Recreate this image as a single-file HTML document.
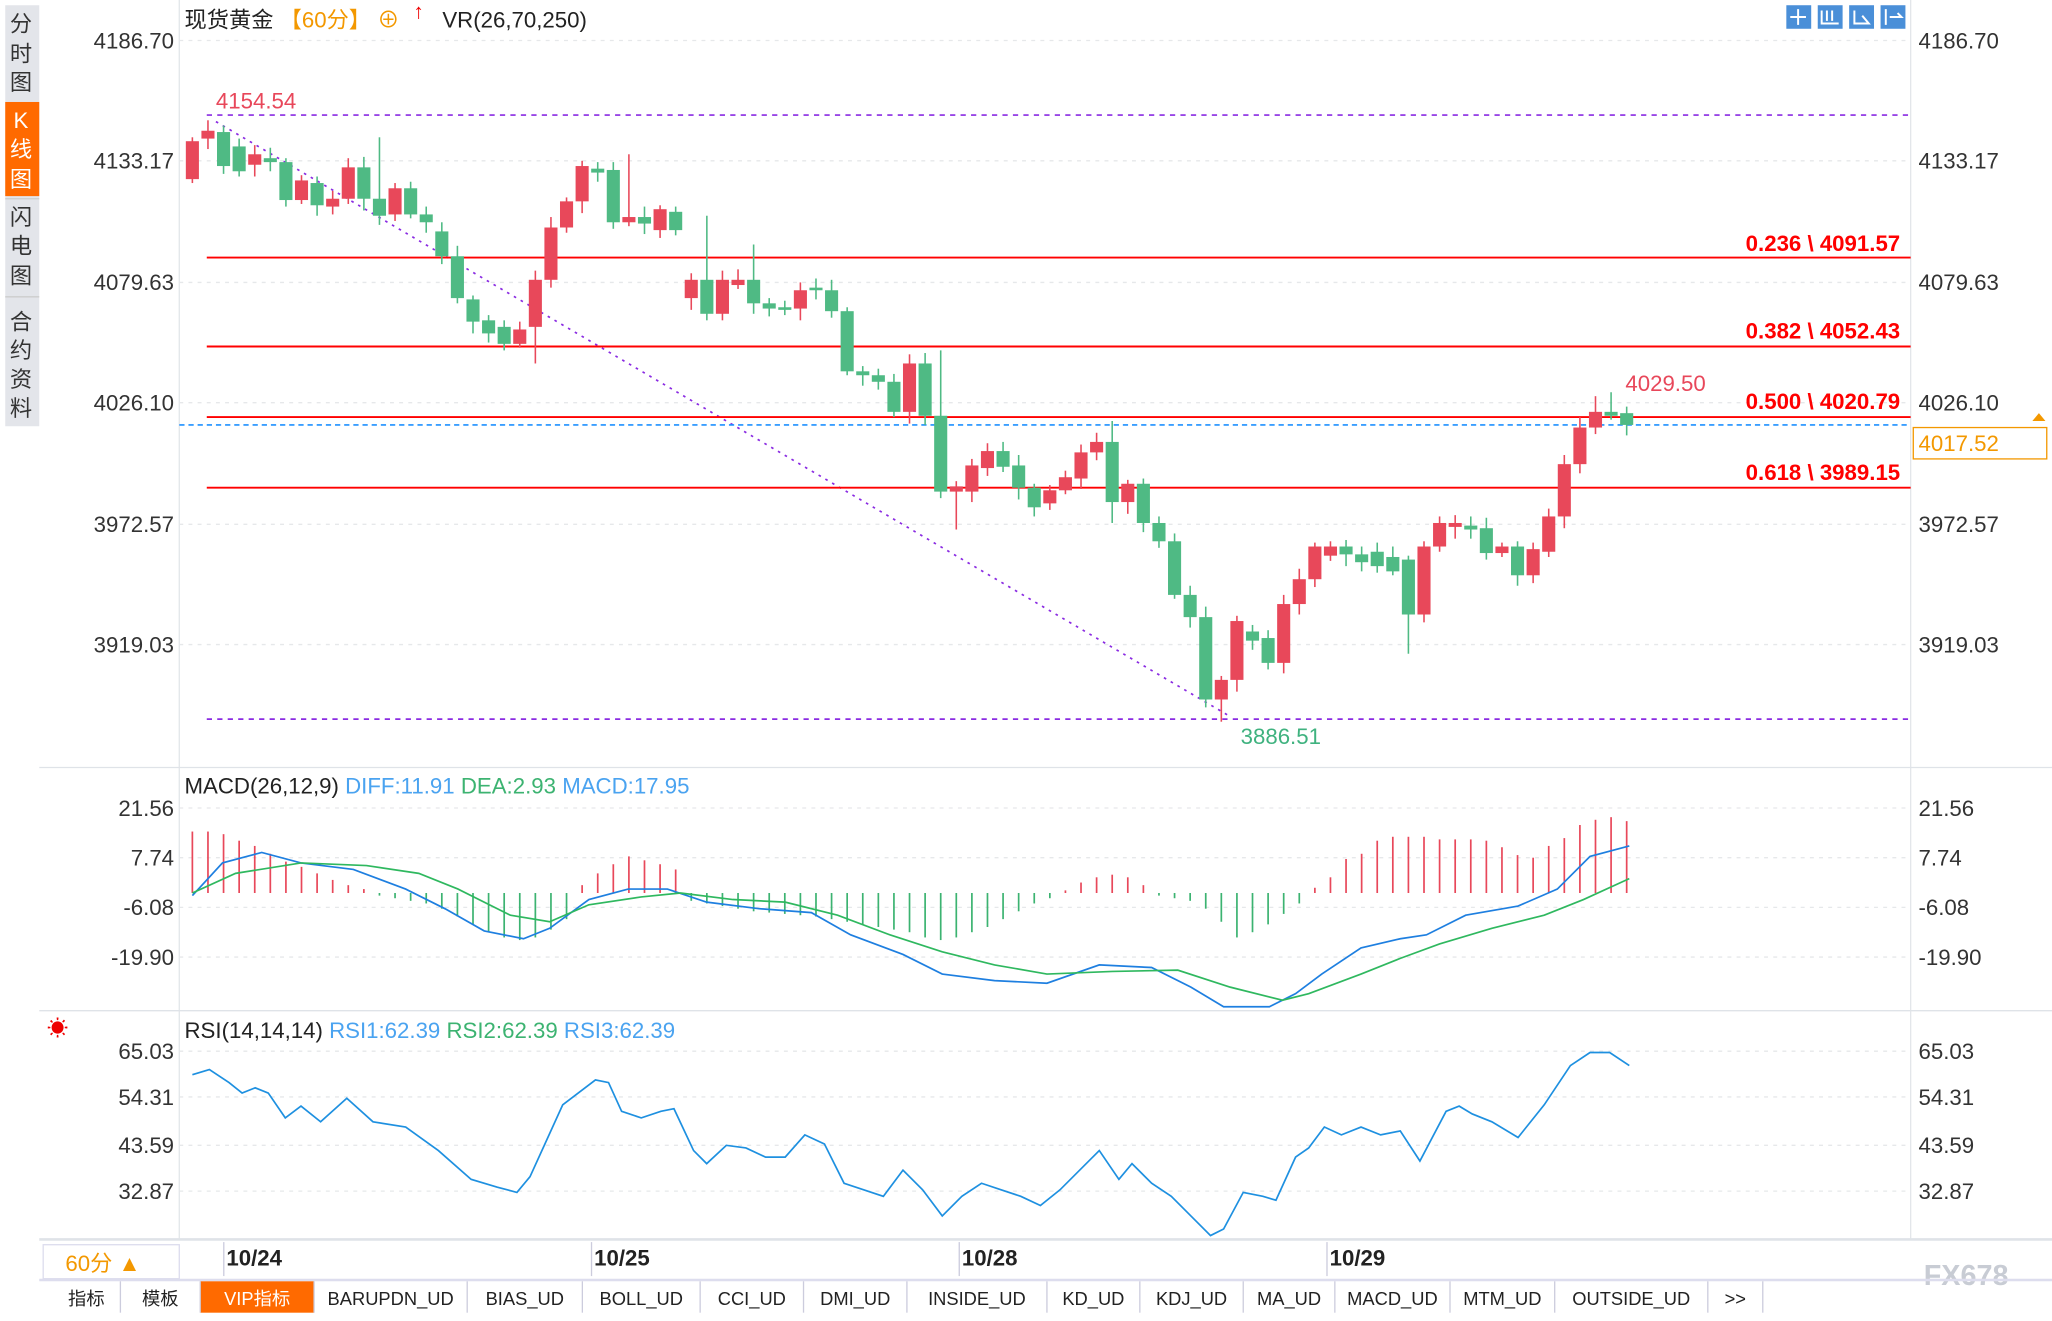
<!DOCTYPE html>
<html><head><meta charset="utf-8"><style>
html,body{margin:0;padding:0;background:#fff;width:2052px;height:1314px;overflow:hidden}
#w{position:absolute;left:0;top:0;width:1568px;height:1005px;transform:scale(1.30867,1.30746);transform-origin:0 0;font-family:"Liberation Sans","Noto Sans CJK SC",sans-serif}
svg text{font-family:"Liberation Sans","Noto Sans CJK SC",sans-serif}
</style></head><body><div id="w">
<svg id="s" width="1568" height="1005" xmlns="http://www.w3.org/2000/svg">
<rect width="1568" height="1005" fill="#fff"/>
<!-- sidebar -->
<rect x="4" y="4" width="26" height="322" fill="#e3e5ea"/>
<rect x="4" y="78" width="26" height="72" fill="#ff6a00"/>
<g font-size="17" fill="#333" text-anchor="middle">
<text x="16" y="24">分</text><text x="16" y="47">时</text><text x="16" y="69">图</text>
<text x="16" y="98" fill="#fff">K</text><text x="16" y="120" fill="#fff">线</text><text x="16" y="143" fill="#fff">图</text>
<text x="16" y="172">闪</text><text x="16" y="194">电</text><text x="16" y="217">图</text>
<text x="16" y="252">合</text><text x="16" y="274">约</text><text x="16" y="296">资</text><text x="16" y="318">料</text>
</g>
<line x1="4" y1="152" x2="30" y2="152" stroke="#ccc"/><line x1="4" y1="227" x2="30" y2="227" stroke="#ccc"/>
<!-- frames -->
<line x1="137" y1="0" x2="137" y2="948" stroke="#e3e6ea"/>
<line x1="1460" y1="0" x2="1460" y2="948" stroke="#e3e6ea"/>
<line x1="30" y1="587" x2="1568" y2="587" stroke="#dfe3e8"/>
<line x1="30" y1="773" x2="1568" y2="773" stroke="#dfe3e8"/>
<line x1="30" y1="948" x2="1568" y2="948" stroke="#dfe3e8" stroke-width="2"/>
<g id="grid" stroke="#e6e8ea" stroke-dasharray="3,4"></g>
<!-- axis labels -->
<g font-size="17" fill="#333">
<g text-anchor="end">
<text x="133" y="37">4186.70</text><text x="133" y="129">4133.17</text><text x="133" y="222">4079.63</text><text x="133" y="314">4026.10</text><text x="133" y="407">3972.57</text><text x="133" y="499">3919.03</text>
<text x="133" y="624">21.56</text><text x="133" y="662">7.74</text><text x="133" y="700">-6.08</text><text x="133" y="738">-19.90</text>
<text x="133" y="810">65.03</text><text x="133" y="845">54.31</text><text x="133" y="882">43.59</text><text x="133" y="917">32.87</text>
</g>
<text x="1466" y="37">4186.70</text><text x="1466" y="129">4133.17</text><text x="1466" y="222">4079.63</text><text x="1466" y="314">4026.10</text><text x="1466" y="407">3972.57</text><text x="1466" y="499">3919.03</text>
<text x="1466" y="624">21.56</text><text x="1466" y="662">7.74</text><text x="1466" y="700">-6.08</text><text x="1466" y="738">-19.90</text>
<text x="1466" y="810">65.03</text><text x="1466" y="845">54.31</text><text x="1466" y="882">43.59</text><text x="1466" y="917">32.87</text>
</g>
<!-- titles -->
<text x="141" y="21" font-size="17" fill="#222">现货黄金 <tspan fill="#f39800">【60分】</tspan><tspan fill="#f39800"> ⊕</tspan></text>
<text x="316" y="14" font-size="16" fill="#e00" font-weight="bold">↑</text>
<text x="338" y="21" font-size="17" fill="#222">VR(26,70,250)</text>
<g fill="#4a8fd8"><rect x="1365" y="4" width="19" height="18"/><rect x="1389" y="4" width="19" height="18"/><rect x="1413" y="4" width="19" height="18"/><rect x="1437" y="4" width="19" height="18"/></g>
<g stroke="#fff" stroke-width="1.5" fill="none"><path d="M1374 7v12M1368 13h12M1392 8v10h13M1396 8v8M1400 8v8M1417 8v10h11l-5-6M1441 7v12M1444 13h9l-3-3"/></g>
<!-- levels -->
<g stroke="#8a2be2" stroke-dasharray="4,4" stroke-width="1.3"><line x1="158" y1="88" x2="1460" y2="88"/><line x1="158" y1="550" x2="1460" y2="550"/></g>
<line x1="165" y1="93" x2="940" y2="548" stroke="#8a2be2" stroke-dasharray="2,4" stroke-width="1.3"/>
<g stroke="#f00" stroke-width="1.5"><line x1="158" y1="197" x2="1460" y2="197"/><line x1="158" y1="265" x2="1460" y2="265"/><line x1="158" y1="319" x2="1460" y2="319"/><line x1="158" y1="373" x2="1460" y2="373"/></g>
<line x1="137" y1="325" x2="1460" y2="325" stroke="#1e90ff" stroke-dasharray="4,3" stroke-width="1.2"/>
<g font-size="17" font-weight="bold" fill="#f00" text-anchor="end">
<text x="1452" y="192">0.236 \ 4091.57</text><text x="1452" y="259">0.382 \ 4052.43</text><text x="1452" y="313">0.500 \ 4020.79</text><text x="1452" y="367">0.618 \ 3989.15</text></g>
<text x="165" y="83" font-size="17" fill="#e8475a">4154.54</text>
<text x="948" y="569" font-size="17" fill="#3fb27f">3886.51</text>
<text x="1242" y="299" font-size="17" fill="#e8475a">4029.50</text>
<rect x="1462" y="327" width="102" height="24" fill="#fff" stroke="#f39800"/>
<text x="1466" y="345" font-size="17" fill="#f39800">4017.52</text>
<path d="M1553 322l5-6 5 6z" fill="#f39800"/>
<g id="c"></g>
<!-- MACD -->
<text x="141" y="607" font-size="17" fill="#222">MACD(26,12,9) <tspan fill="#4aa3f0">DIFF:11.91</tspan> <tspan fill="#3cb371">DEA:2.93</tspan> <tspan fill="#4aa3f0">MACD:17.95</tspan></text>
<g id="m"></g>
<polyline fill="none" stroke="#1e7fe0" stroke-width="1.3" points="147,685 170,660 200,652 230,660 270,665 310,680 340,695 370,712 400,718 420,710 450,688 480,680 510,680 540,690 580,695 620,698 650,715 690,730 720,745 760,750 800,752 840,738 880,740 910,755 935,770 970,770 990,760 1010,745 1040,725 1070,718 1090,715 1120,700 1160,693 1190,680 1215,655 1245,647"/>
<polyline fill="none" stroke="#2fb85f" stroke-width="1.3" points="147,683 180,668 230,660 280,662 320,668 350,680 390,700 420,705 450,692 490,686 520,683 560,688 600,690 640,700 680,715 720,728 760,738 800,745 850,743 900,742 940,755 980,765 1000,760 1040,745 1070,733 1100,722 1140,710 1180,700 1210,688 1245,672"/>
<!-- RSI -->
<text x="36" y="792" font-size="16" fill="#e00">☀</text>
<text x="141" y="794" font-size="17" fill="#222">RSI(14,14,14) <tspan fill="#4aa3f0">RSI1:62.39</tspan> <tspan fill="#3cb371">RSI2:62.39</tspan> <tspan fill="#4aa3f0">RSI3:62.39</tspan></text>
<polyline fill="none" stroke="#1e90e0" stroke-width="1.3" points="147,822 160,818 175,828 185,836 195,832 205,836 218,855 230,846 245,858 265,840 285,858 310,862 335,880 360,902 380,908 395,912 405,900 430,845 455,826 465,828 475,850 490,855 505,850 515,848 530,880 540,890 555,876 570,878 585,885 600,885 615,868 630,875 645,905 660,910 675,915 690,895 705,910 720,930 735,915 750,905 765,910 780,915 795,922 810,910 840,880 855,902 865,890 880,905 895,915 910,930 925,945 935,940 950,912 965,915 975,918 990,885 1000,878 1012,862 1025,868 1040,862 1055,868 1070,865 1085,888 1105,850 1115,846 1125,852 1140,858 1160,870 1180,845 1200,815 1215,805 1230,805 1245,815"/>
<!-- date axis -->
<rect x="33" y="952" width="104" height="26" fill="#fff" stroke="#dde"/>
<text x="50" y="972" font-size="17" fill="#f39800">60分 ▲</text>
<g font-size="17" fill="#222" font-weight="bold"><text x="173" y="968">10/24</text><text x="454" y="968">10/25</text><text x="735" y="968">10/28</text><text x="1016" y="968">10/29</text></g>
<g stroke="#ccd" ><line x1="171" y1="950" x2="171" y2="976"/><line x1="452" y1="950" x2="452" y2="976"/><line x1="733" y1="950" x2="733" y2="976"/><line x1="1014" y1="950" x2="1014" y2="976"/></g>
<text x="1470" y="983" font-size="22" fill="#c8ccd4" font-weight="bold">FX678</text>
<!-- toolbar -->
<line x1="30" y1="979" x2="1568" y2="979" stroke="#dde" stroke-width="2"/>
<rect x="153" y="980" width="87" height="24" fill="#ff6a00"/>
<g id="tb" font-size="16" fill="#222" font-family="Liberation Mono,monospace"></g>
</svg>
<script>
var NS="http://www.w3.org/2000/svg";
function el(p,t,a){var e=document.createElementNS(NS,t);for(var k in a)e.setAttribute(k,a[k]);p.appendChild(e);return e;}
var g=document.getElementById('grid');
[31,123,216,308,401,493,618,656,694,732,804,839,876,911].forEach(function(y){el(g,'line',{x1:137,y1:y,x2:1460,y2:y});});
var C=[['r',137,108],['r',106,100],['g',101,127],['g',112,131],['r',126,118],['g',121,124],['g',124,153],['r',153,138],['g',140,157],['r',158,152],['r',152,128],['g',128,152],['g',152,165],['r',164,144],['g',144,164],['g',164,170],['g',177,196],['g',196,228],['g',229,246],['g',245,255],['g',250,263],['r',263,252],['r',250,214],['r',214,174],['r',174,154],['r',154,127],['g',129,132],['g',130,170],['r',170,166],['g',166,171],['r',176,160],['g',162,176],['r',228,214],['g',214,240],['r',240,214],['r',218,214],['g',214,232],['g',232,236],['g',235,237],['r',236,222],['g',220,222],['g',222,238],['g',238,284],['g',284,287],['g',287,292],['g',292,315],['r',315,278],['g',278,318],['g',318,376],['r',376,372],['r',376,356],['r',358,345],['g',345,357],['g',356,373],['g',373,388],['r',385,375],['r',375,365],['r',366,346],['r',346,338],['g',338,384],['r',384,370],['g',370,400],['g',400,414],['g',414,455],['g',455,472],['g',472,535],['r',535,520],['r',520,475],['g',483,490],['g',488,507],['r',507,462],['r',462,443],['r',443,418],['r',425,418],['g',418,424],['g',424,430],['g',422,433],['g',426,437],['g',428,470],['r',470,418],['r',418,400],['r',403,400],['g',402,405],['g',404,423],['r',423,418],['g',418,440],['r',440,420],['r',422,395],['r',395,355],['r',355,327],['r',327,315],['g',315,318],['g',316,325]];
var cg=document.getElementById('c'),n=C.length,dx=(1243-147)/(n-1);
var extra={1:[92,0],11:[0,0],12:[105,0],22:[0,278],28:[118,0],33:[165,245],36:[187,0],48:[268,0],49:[0,405],59:[322,400],65:[0,0],66:[0,552],70:[0,515],78:[0,500],90:[303,0],91:[300,0]};
C.forEach(function(c,i){var x=147+i*dx,t=Math.min(c[1],c[2]),b=Math.max(c[1],c[2]);var col=c[0]=='r'?'#e8485a':'#4fba84';
var hi=t-3-(i*7%6),lo=b+3+(i*5%7);if(extra[i]){if(extra[i][0])hi=extra[i][0];if(extra[i][1])lo=extra[i][1];}
el(cg,'line',{x1:x,y1:hi,x2:x,y2:lo,stroke:col,'stroke-width':1.2});el(cg,'rect',{x:x-5,y:t,width:10,height:Math.max(b-t,1.5),fill:col});});
// MACD hist
var z=683,M=[-47,-47,-45,-40,-36,-30,-24,-20,-15,-10,-6,-3,2,4,6,8,12,18,24,30,34,36,34,28,20,-6,-15,-22,-28,-25,-22,-18,6,8,10,12,14,15,16,17,18,20,22,24,26,28,30,34,36,34,30,26,20,14,8,4,-2,-8,-12,-14,-12,-6,2,4,6,12,22,34,30,24,16,8,-4,-12,-26,-30,-40,-43,-43,-43,-41,-41,-41,-40,-35,-29,-27,-36,-42,-52,-56,-58,-55];
var mg=document.getElementById('m');
M.forEach(function(v,i){if(i>=n)return;var x=147+i*dx;el(mg,'line',{x1:x,y1:z,x2:x,y2:z+v,stroke:v<0?'#e8485a':'#3cb371','stroke-width':1.3});});
var tb=document.getElementById('tb'),items=[['指标',40,92],['模板',92,153],['VIP指标',153,240],['BARUPDN_UD',240,357],['BIAS_UD',357,445],['BOLL_UD',445,535],['CCI_UD',535,614],['DMI_UD',614,693],['INSIDE_UD',693,800],['KD_UD',800,871],['KDJ_UD',871,950],['MA_UD',950,1020],['MACD_UD',1020,1108],['MTM_UD',1108,1188],['OUTSIDE_UD',1188,1305],['>>',1305,1347]];
items.forEach(function(it){var t=el(tb,'text',{x:(it[1]+it[2])/2,y:998,'text-anchor':'middle','font-size':14});t.textContent=it[0];if(it[0]=='VIP指标')t.setAttribute('fill','#fff');el(tb,'line',{x1:it[2],y1:980,x2:it[2],y2:1004,stroke:'#ccd'});});
</script>
</div></body></html>
